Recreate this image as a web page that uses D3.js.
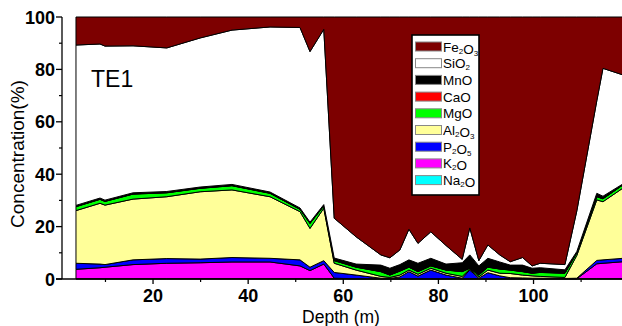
<script src="https://cdn.jsdelivr.net/npm/d3@7"></script>
<style type="text/css">
  body { margin: 0; background: #fff; }
  svg { display: block; font-family: "Liberation Sans", Arial, sans-serif; }
</style>

<body></body>

<script>
  // data (wt %), depth in m
  var depth = [3.8, 8.85, 9.9, 15.8, 22.9, 29.9, 36.6, 44.6, 50.9, 53.0, 55.9, 58.1, 62.7, 67.9, 69.8, 71.9, 73.8,
    75.7, 78.4, 81.6, 85.0, 86.6, 88.5, 90.4, 92.9, 95.1, 97.7, 99.7, 101.4, 106.6, 109.1, 113.3, 114.6, 118.8];
  var Na2O = [0.1, 0.1, 0.1, 0.1, 0.1, 0.1, 0.1, 0.1, 0.1, 0.1, 0.1, 0.1, 0.1, 0.1, 0.1, 0.1, 0.1,
    0.1, 0.1, 0.1, 0.1, 0.1, 0.1, 0.1, 0.1, 0.1, 0.1, 0.1, 0.1, 0.1, 0.1, 0.1, 0.1, 0.1];
  var K2O = [3.6, 4.2, 4.4, 5.4, 5.9, 6.1, 6.4, 6.4, 4.9, 3.1, 5.6, 0.2, 0, 0, 0, 0, 0,
    0, 0, 0, 0, 0, 0, 0, 0, 0, 0, 0, 0, 0, 0, 5.7, 5.9, 6.5];
  var P2O5 = [2.3, 1.4, 1.0, 1.8, 1.8, 1.4, 1.7, 1.4, 2.3, 1.3, 1.3, 2.2, 1.4, 0.2, 0.1, 0.7, 2.7,
    1.0, 3.3, 1.4, 0.2, 3.3, 0.2, 2.3, 1.1, 0.4, 0.3, 0.2, 0.2, 0.1, 0.2, 1.3, 1.3, 1.3];
  var Al2O3 = [20.1, 23.2, 22.7, 23.2, 23.6, 25.7, 25.8, 23.5, 18.4, 14.8, 20.0, 3.5, 1.9, 0.7, 0.4, 0.7, 0.6,
    0.7, 0.7, 0.7, 0.7, 0.4, 0.5, 1.0, 1.0, 1.6, 1.1, 0.9, 0.7, 0.4, 8.7, 23.1, 22.2, 26.8];
  var MgO = [1.5, 1.5, 1.4, 1.9, 1.5, 1.3, 1.6, 1.3, 0.9, 1.9, 0.9, 1.0, 1.1, 1.8, 0.9, 1.5, 1.1,
    1.0, 0.9, 1.2, 1.8, 0.3, 0.7, 1.1, 1.6, 1.3, 1.3, 1.0, 1.5, 1.6, 1.0, 1.2, 1.1, 1.2];
  var CaO = [0.1, 0.1, 0.1, 0.1, 0.1, 0.1, 0.1, 0.1, 0.1, 0.1, 0.1, 0.1, 0.1, 0.1, 0.1, 0.1, 0.1,
    0.1, 0.1, 0.1, 0.1, 0.1, 0.1, 0.1, 0.1, 0.1, 0.1, 0.1, 0.1, 0.1, 0.1, 0.1, 0.1, 0.1];
  var MnO = [0.4, 0.4, 0.4, 0.4, 0.4, 0.4, 0.4, 0.4, 0.4, 0.4, 0.4, 0.9, 1.1, 2.4, 2.5, 2.4, 2.7,
    3.1, 2.8, 2.2, 3.3, 5.0, 3.4, 3.3, 2.6, 1.8, 2.4, 1.8, 1.7, 1.2, 0.4, 1.2, 0.9, 0.3];
  var SiO2 = [61.2, 58.8, 58.8, 56.1, 54.8, 56.9, 58.9, 63.0, 68.9, 65.1, 66.9, 15.2, 10.4, 3.9, 4.0, 5.6, 11.7,
    7.6, 10.1, 7.1, 1.3, 10.3, 2.0, 5.1, 2.7, 1.3, 2.9, 0.9, 1.7, 2.0, 15.5, 35.3, 48.8, 41.6];
  var Fe2O3 = [10.7, 10.3, 11.1, 11.0, 11.8, 8.0, 5.0, 3.8, 4.0, 13.2, 4.7, 76.8, 83.9, 90.8, 91.9, 88.9, 81.0,
    86.4, 82.0, 87.2, 92.5, 80.5, 93.0, 87.0, 90.8, 93.4, 91.8, 95.0, 94.0, 94.5, 74.0, 32.0, 19.6, 22.1];

  // stacking order, bottom to top
  var keys = ['Na2O', 'K2O', 'P2O5', 'Al2O3', 'MgO', 'CaO', 'MnO', 'SiO2', 'Fe2O3'];
  var series = {Na2O: Na2O, K2O: K2O, P2O5: P2O5, Al2O3: Al2O3, MgO: MgO, CaO: CaO, MnO: MnO, SiO2: SiO2, Fe2O3: Fe2O3};
  var colors = {
    Fe2O3: '#7d0000', SiO2: '#ffffff', MnO: '#000000', CaO: '#ff0000', MgO: '#00ff00',
    Al2O3: '#ffff99', P2O5: '#0000ff', K2O: '#ff00ff', Na2O: '#00ffff'
  };
  var legendKeys = ['Fe2O3', 'SiO2', 'MnO', 'CaO', 'MgO', 'Al2O3', 'P2O5', 'K2O', 'Na2O'];

  var xTicks = [20, 40, 60, 80, 100];
  var yTicks = [0, 20, 40, 60, 80, 100];

  var width = 622;
  var height = 326;
  var svg = d3.select('body').append('svg')
    .attr('width', width)
    .attr('height', height);

  // scales
  var xScale = d3.scaleLinear().domain([0.86, 118.6]).range([62, 622]);
  var yScale = d3.scaleLinear().domain([0, 100]).range([279, 17]);

  var table = depth.map(function(d, i) {
    var row = {depth: d};
    keys.forEach(function(k) { row[k] = series[k][i]; });
    return row;
  });
  var stacked = d3.stack().keys(keys)(table);

  var area = d3.area()
    .x(function(d) { return xScale(d.data.depth); })
    .y0(function(d) { return yScale(d[0]); })
    .y1(function(d) { return yScale(d[1]); });

  svg.append('clipPath').attr('id', 'clip')
    .append('rect').attr('x', 62).attr('y', 0).attr('width', 560).attr('height', 280);

  svg.append('g').attr('clip-path', 'url(#clip)')
    .selectAll('path')
    .data(stacked)
    .enter().append('path')
    .attr('d', area)
    .attr('fill', function(d) { return colors[d.key]; })
    .attr('stroke', '#000')
    .attr('stroke-width', 1)
    .attr('stroke-linejoin', 'round');

  // axes
  var yAxis = svg.append('g').attr('transform', 'translate(62,0)');
  yAxis.append('line').attr('x1', 0).attr('x2', 0).attr('y1', 17).attr('y2', 279)
    .attr('stroke', '#000').attr('stroke-width', 1.3);
  yAxis.selectAll('.minor').data(d3.range(10, 100, 20)).enter().append('line')
    .attr('x1', -3).attr('x2', 0)
    .attr('y1', function(d) { return yScale(d); }).attr('y2', function(d) { return yScale(d); })
    .attr('stroke', '#000').attr('stroke-width', 1.2);
  yAxis.selectAll('.major').data(yTicks).enter().append('line')
    .attr('x1', -6).attr('x2', 0)
    .attr('y1', function(d) { return yScale(d); }).attr('y2', function(d) { return yScale(d); })
    .attr('stroke', '#000').attr('stroke-width', 1.3);
  yAxis.selectAll('text').data(yTicks).enter().append('text')
    .attr('x', -7)
    .attr('y', function(d) { return yScale(d) + 6.5; })
    .attr('text-anchor', 'end')
    .attr('font-size', 18).attr('font-weight', 'bold')
    .text(function(d) { return d; });

  var xAxis = svg.append('g');
  xAxis.append('line').attr('x1', 56).attr('x2', 622).attr('y1', 279).attr('y2', 279)
    .attr('stroke', '#000').attr('stroke-width', 1.3);
  xAxis.selectAll('.minor').data(d3.range(10, 120, 20)).enter().append('line')
    .attr('x1', function(d) { return xScale(d); }).attr('x2', function(d) { return xScale(d); })
    .attr('y1', 279).attr('y2', 282)
    .attr('stroke', '#000').attr('stroke-width', 1.2);
  xAxis.selectAll('.major').data(xTicks).enter().append('line')
    .attr('x1', function(d) { return xScale(d); }).attr('x2', function(d) { return xScale(d); })
    .attr('y1', 279).attr('y2', 284)
    .attr('stroke', '#000').attr('stroke-width', 1.3);
  xAxis.selectAll('text').data(xTicks).enter().append('text')
    .attr('x', function(d) { return xScale(d); })
    .attr('y', 302)
    .attr('text-anchor', 'middle')
    .attr('font-size', 18).attr('font-weight', 'bold')
    .text(function(d) { return d; });

  // axis titles
  svg.append('text')
    .attr('transform', 'translate(24,154) rotate(-90)')
    .attr('text-anchor', 'middle')
    .attr('font-size', 19)
    .text('Concentration(%)');
  svg.append('text')
    .attr('x', 341).attr('y', 322.5)
    .attr('text-anchor', 'middle')
    .attr('font-size', 17.5)
    .text('Depth (m)');

  svg.append('text')
    .attr('x', 91).attr('y', 87)
    .attr('font-size', 23)
    .text('TE1');

  // legend
  var legend = svg.append('g').attr('transform', 'translate(412,35)');
  legend.append('rect')
    .attr('width', 67).attr('height', 160)
    .attr('fill', '#fff').attr('stroke', '#000').attr('stroke-width', 1.6);
  var item = legend.selectAll('.item').data(legendKeys).enter().append('g')
    .attr('transform', function(d, i) { return 'translate(0,' + (11.5 + i * 16.7) + ')'; });
  item.append('rect')
    .attr('x', 3.5).attr('y', -4.5).attr('width', 26).attr('height', 9)
    .attr('fill', function(d) { return colors[d]; })
    .attr('stroke', '#888').attr('stroke-width', 1);
  var label = item.append('text')
    .attr('x', 31).attr('y', 5)
    .attr('font-size', 13.5);
  label.each(function(d) {
    var t = d3.select(this);
    d.match(/[A-Za-z]+|\d/g).forEach(function(part) {
      if (/\d/.test(part)) {
        t.append('tspan').attr('font-size', 8).attr('dy', 2).text(part);
        t.append('tspan').attr('dy', -2).text('');
      } else {
        t.append('tspan').text(part);
      }
    });
  });
</script>
